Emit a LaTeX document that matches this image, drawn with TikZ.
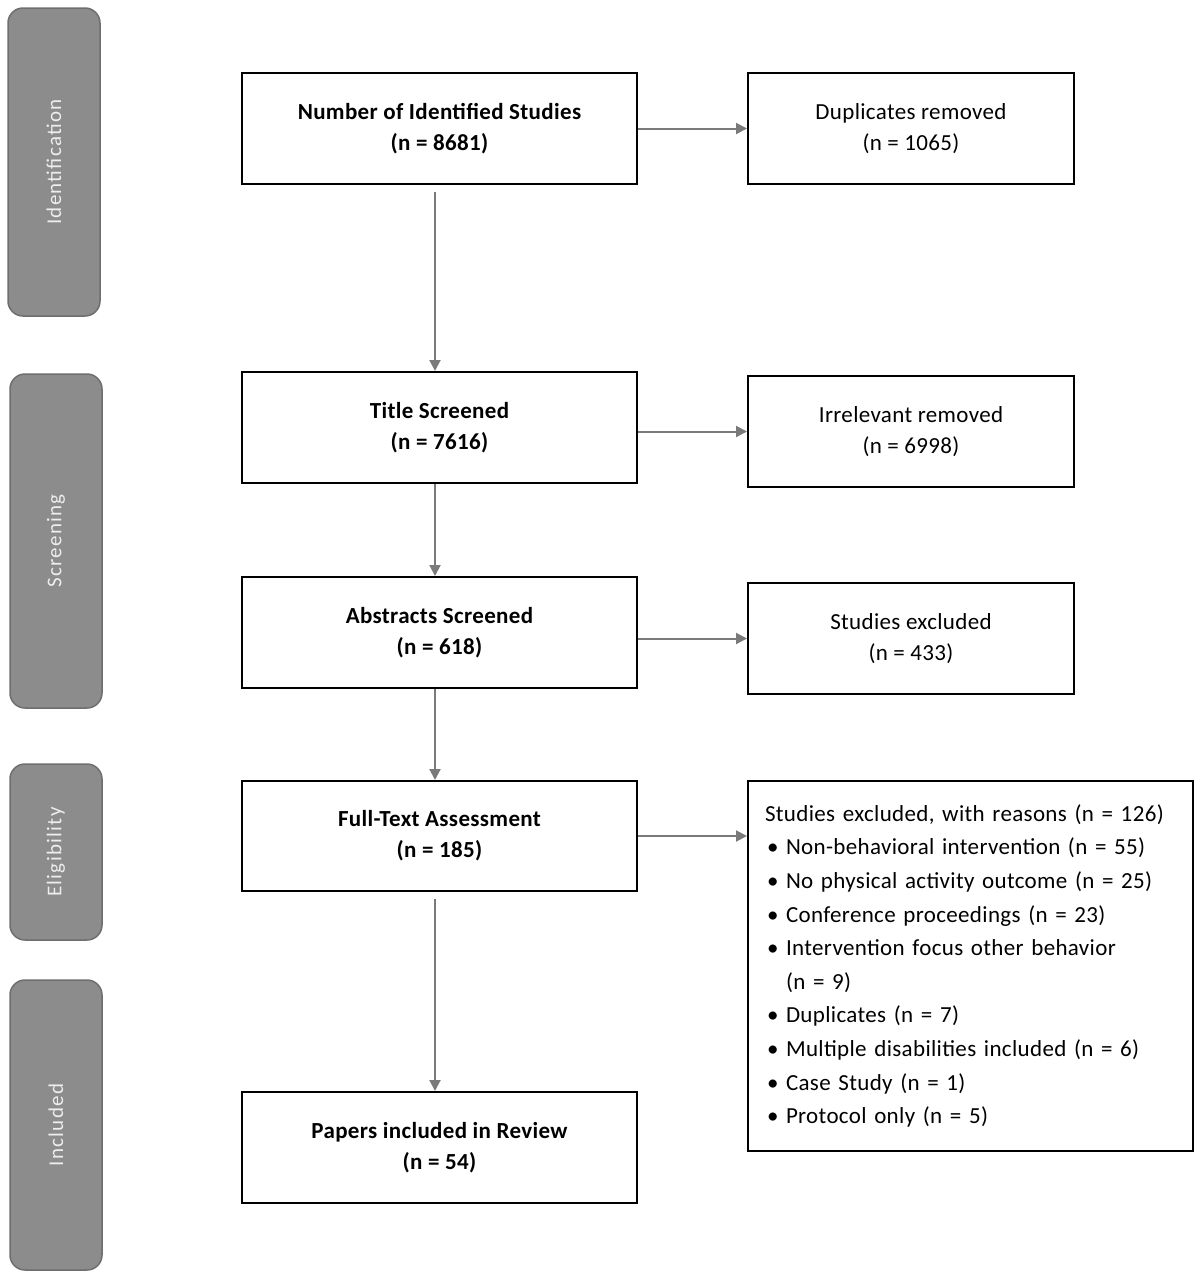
\documentclass[tikz,border=0pt]{standalone}
\usepackage{fontspec}
\setmainfont{Carlito}
\newfontfamily\barfont[LetterSpace=6]{Carlito}
\newfontfamily\boxfont[LetterSpace=1.5]{Carlito}
\usetikzlibrary{arrows.meta}
\definecolor{barfill}{HTML}{8C8C8C}
\definecolor{barline}{HTML}{6E6E6E}
\definecolor{bartext}{HTML}{EDEDED}
\definecolor{arrowgray}{HTML}{7A7A7A}
\begin{document}
\begin{tikzpicture}[x=1pt,y=-1pt,
  stagebar/.style={draw=barline, fill=barfill, line width=1.5pt, rounded corners=15pt, minimum width=92pt},
  stagelabel/.style={text=bartext, rotate=90, font=\barfont\fontsize{21}{24}\selectfont},
  mainbox/.style={draw=black, line width=2pt, minimum width=395pt, minimum height=111pt, align=center, font=\boxfont\bfseries\fontsize{23}{31}\selectfont},
  sidebox/.style={draw=black, line width=2pt, minimum width=326pt, minimum height=111pt, align=center, font=\boxfont\fontsize{23}{31}\selectfont},
  flowarrow/.style={draw=arrowgray, line width=2pt, -{Triangle[length=11pt,width=11pt]}}
]
\useasboundingbox (0,0) rectangle (1200,1278);
% stage bars
\node[stagebar, minimum height=308pt] (s1) at (54,162) {};
\node[stagelabel] (l1) at (s1.center) {Identification};
\node[stagebar, minimum height=334pt] (s2) at (56,541) {};
\node[stagelabel] (l2) at (s2.center) {Screening};
\node[stagebar, minimum height=176pt] (s3) at (56,852) {};
\node[stagelabel] (l3) at (s3.center) {Eligibility};
\node[stagebar, minimum height=290pt] (s4) at (56,1125) {};
\node[stagelabel] (l4) at (s4.center) {Included};
% main boxes
\node[mainbox] (b1) at (439.5,128.5) {Number of Identified Studies\\(n = 8681)};
\node[mainbox] (b2) at (439.5,427.5) {Title Screened\\(n = 7616)};
\node[mainbox] (b3) at (439.5,632.5) {Abstracts Screened\\(n = 618)};
\node[mainbox, minimum height=110pt] (b4) at (439.5,836) {Full-Text Assessment\\(n = 185)};
\node[mainbox] (b5) at (439.5,1147.5) {Papers included in Review\\(n = 54)};
% side boxes
\node[sidebox] (r1) at (911,128.5) {Duplicates removed\\(n = 1065)};
\node[sidebox] (r2) at (911,431.5) {Irrelevant removed\\(n = 6998)};
\node[sidebox] (r3) at (911,638.5) {Studies excluded\\(n = 433)};
\node[draw=black, line width=2pt, minimum width=445pt, minimum height=370pt, text width=411pt, inner xsep=17pt, align=left, font=\boxfont\fontsize{23}{33.6}\selectfont] (r4) at (970.5,966) {%
Studies excluded, with reasons (n = 126)\\
\hspace*{2pt}\makebox[19pt][l]{\textbullet}Non-behavioral intervention (n = 55)\\
\hspace*{2pt}\makebox[19pt][l]{\textbullet}No physical activity outcome (n = 25)\\
\hspace*{2pt}\makebox[19pt][l]{\textbullet}Conference proceedings (n = 23)\\
\hspace*{2pt}\makebox[19pt][l]{\textbullet}Intervention focus other behavior\\
\hspace*{21pt}(n = 9)\\
\hspace*{2pt}\makebox[19pt][l]{\textbullet}Duplicates (n = 7)\\
\hspace*{2pt}\makebox[19pt][l]{\textbullet}Multiple disabilities included (n = 6)\\
\hspace*{2pt}\makebox[19pt][l]{\textbullet}Case Study (n = 1)\\
\hspace*{2pt}\makebox[19pt][l]{\textbullet}Protocol only (n = 5)};
% horizontal arrows
\draw[flowarrow] (b1.east) -- (r1.west);
\draw[flowarrow] (b2.east |- r2.west) -- (r2.west);
\draw[flowarrow] (b3.east |- r3.west) -- (r3.west);
\draw[flowarrow] (b4.east) -- (b4.east -| r4.west);
% vertical arrows
\draw[flowarrow, shorten <=7pt] ([xshift=-4.5pt]b1.south) -- ([xshift=-4.5pt]b2.north);
\draw[flowarrow] ([xshift=-4.5pt]b2.south) -- ([xshift=-4.5pt]b3.north);
\draw[flowarrow] ([xshift=-4.5pt]b3.south) -- ([xshift=-4.5pt]b4.north);
\draw[flowarrow, shorten <=7pt] ([xshift=-4.5pt]b4.south) -- ([xshift=-4.5pt]b5.north);
\end{tikzpicture}
\end{document}
